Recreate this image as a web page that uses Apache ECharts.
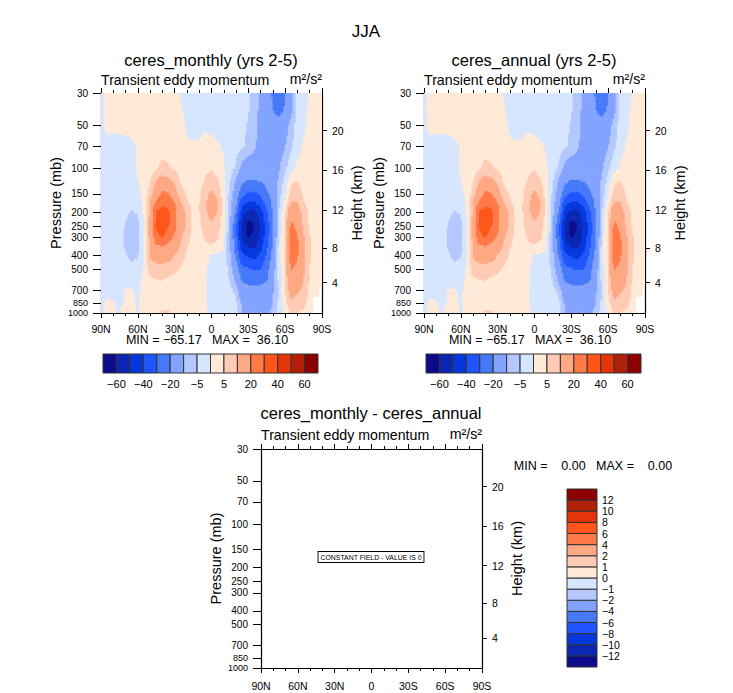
<!DOCTYPE html>
<html><head><meta charset="utf-8">
<script src="https://cdn.jsdelivr.net/npm/echarts@6.0.0/dist/echarts.min.js"></script>
<style>html,body{margin:0;padding:0;background:#fff}#c{width:733px;height:693px}</style>
</head><body><div id="c"></div>
<script>
// ---- data ----
const lats = [90,85,80,75,70,65,60,55,50,45,40,35,30,25,20,15,10,5,0,-5,-10,-15,-20,-25,-30,-35,-40,-45,-50,-55,-60,-65,-70,-75,-80,-85,-90];
const pressureLevels = [30,40,50,70,100,125,150,175,200,250,300,350,400,500,600,700,850,925,1000];
const p30  = [-1,1,1,1.5,1.5,2,2,2.5,2.5,3,3,3,2.5,-0.5,-1,-1.5,-1.5,-1.5,-1.5,-1.5,-1.5,-2,-2,-2.5,-4,-7,-11,-15,-21,-27,-21,-12,-4,-2,0.5,1,1.5];
const p40  = [-1,1,1,1.5,1.5,2,2,2.5,2.5,3,3,3,2.5,0.5,-1,-1.5,-1.5,-1.5,-1.5,-1.5,-1.5,-2,-2,-3,-4.5,-7.5,-11.5,-16,-19.5,-23,-19,-11.5,-4,-1.5,1,1.5,1.5];
const p50  = [-1,1,1,1.5,1.5,2,2,2.5,2.5,3,3,3,2.5,1,-0.5,-1,-1,-0.5,-1,-1.5,-1.5,-2,-2.5,-3,-5.5,-8,-12.5,-16,-17,-16,-13,-8,-3,-1,1,1.5,2];
const p70  = [-1,-1,-1.5,-2,-1.5,-1,0.5,2,2.5,3,3.5,3.5,3,2,0.5,0.3,0.5,1,1,0.5,-0.5,-2,-3,-4,-6.5,-9,-12,-14,-15,-13,-10.5,-6,-2,0.5,1.5,2,2];
const p100 = [-1,-1.5,-2,-2.5,-2.5,-2,0.5,2,3,4.5,6,5.5,4.5,3,2,1.5,2,4,4.5,3,0.5,-3,-5.5,-12,-14,-13,-14,-14,-15,-11,-6,-2,1,2,2.5,2,2];
const p125 = [-1,-1.5,-2,-2.5,-3,-2.5,-0.3,1.5,4.5,10.5,14,12,9,4.5,3,2,3,5.5,8,6,1,-4.5,-11,-19,-21,-21,-20.5,-17,-15,-9,-3,4.5,5.5,3.5,2.5,2,2];
const p150 = [-1,-1.5,-2,-2.5,-3,-3,-1,1,7,14,22,20.5,13,7,4.5,3,4,8,11,9,2,-6,-13,-26,-31,-32,-28,-22,-16,-8,-1,7,7.5,4.5,3,2.5,2];
const p175 = [-1,-1.5,-2,-2.5,-3.5,-3.5,-2,0.5,10.5,22,28,27,21,11,6,3.5,4.5,9,13,10.5,3,-7,-16,-38,-41,-42,-35,-28,-18,-7,2,10.5,10.5,5.5,3.5,3,2.5];
const p200 = [-1,-1.5,-2,-3,-4,-5.2,-4.5,0.8,11,31,34,32,24,13,9,4,4.5,9,12,10,3,-8,-20.5,-44,-52,-53,-45,-32,-19.5,-5.5,3.5,17,14,7.5,4,3,2.5];
const p250 = [-1,-1.5,-2,-3,-5.2,-7,-6.5,0.3,12,33,36,31,23,13,9.5,4,4,7,9,7.5,2,-8.5,-28,-51,-65,-60.5,-49,-36,-22,-4,5.2,22,18,9,4.5,3.5,3];
const p300 = [-1,-1.5,-2,-3,-6,-8,-7,-0.5,11.5,26,31,24,19,11,7,3.5,3.5,5.5,7,6,1,-9,-27,-50,-61,-57,-48,-35,-21,-3.5,6,25,21,11,5.2,4,3];
const p350 = [-1,-1.5,-2,-3,-5.5,-7.5,-6.5,-0.6,11,18,19,17,15,9,5.5,3,3,4,4.5,3,0.3,-9,-25,-45,-51,-52,-44,-32,-19,-3,6,26,22,12,5.5,4,3];
const p400 = [-1,-1.5,-2,-3,-4.5,-6,-5.5,-0.4,10.5,14,14,13,10,7,4.5,2.5,2.5,2.5,-0.5,-0.8,-1.5,-8,-21,-38,-41,-44,-38,-29,-17,-3,6,25,21.5,12,5.5,4,3];
const p500 = [-1,-1.5,-2,-2.5,-3.5,-4,-3,0.5,7,7,7.5,7,6,4.5,3,2,2,0.3,-1,-1.2,-2,-6.5,-14,-27,-29,-31,-30.5,-24,-14,-3.5,5.5,20.5,18,11,5,3.5,3];
const p600 = [-1,-1.5,-2,-2.5,-2.5,-2.5,-1.5,1,4,4.8,5,4,3.5,3,2.5,2,1.5,0.3,-1,-1.5,-2,-5,-11,-20.5,-22,-23,-22,-20.5,-12,-4,5.5,16,14,10.5,4.5,3,2.5];
const p700 = [-1,-1,-1.5,-2,0.5,0.5,-1,1.5,3,3,3.5,3,3,2.5,2,2,1.5,0.3,-1,-1.5,-2,-4,-6,-16,-17,-18,-17,-15,-11,-5.2,4.5,13,11,9,4,2,null];
const p850 = [-1,0.5,0.3,-2,0.5,1,-0.5,2,2.5,3,3.5,3,2.5,2,2,2,1.5,0.3,-1,-1.2,-1.5,-3,-4,-11,-13,-15,-14,-13,-10,-4,3,9,8,7,3,null,null];
const p925 = [-1,1,0.5,-0.5,1,1,-0.5,2,2.5,3,4.5,4.5,2.5,2,2,2,1.5,0.3,-0.5,-1,-1.5,-2.5,-3.5,-10.5,-12,-13,-13,-12,-9.5,-3.5,2,7,6,5.5,2,null,null];
const p1000= [-1,1,0.5,-0.5,1,1,-0.3,2,2.5,3,6,6,3,2,2,2,1.5,0.3,-0.5,-1,-1.5,-2,-3,-10.5,-11,-12,-12,-11,-8,-3,1,5.5,5,4,1,null,null];
const fieldRows = [p30,p40,p50,p70,p100,p125,p150,p175,p200,p250,p300,p350,p400,p500,p600,p700,p850,p925,p1000];

const contourLevels = [-60,-50,-40,-30,-20,-10,-5,0,5,10,20,30,40,50,60];
const diffLevels = [-12,-10,-8,-6,-4,-2,-1,0,1,2,4,6,8,10,12];
const palette = ['#0b0b8c','#0a26b2','#0537dc','#1e55ff','#4679fa','#82a3ff','#b4c8ff','#d7e6ff',
                 '#ffe9d7','#ffcbb4','#ffa884','#ff7a46','#ff5519','#e3340a','#b3200a','#8c0000'];
const pressureTicks = [30,50,70,100,150,200,250,300,400,500,700,850,1000];
const heightTicks = [4,8,12,16,20];
const heightTickPressures = [616.4,356.0,194.0,102.9,54.75];
const statsTop = {min:'\u221265.17', max:'36.10'};
const statsDiff = {min:'0.00', max:'0.00'};

// ---- helpers ----
const FONT = '"Liberation Sans", Arial, sans-serif';
function colorFor(v, levels){ let i=0; while(i<levels.length && v>=levels[i]) i++; return palette[i]; }
function fmtLat(v){ if (Math.abs(v)<1e-9) return '0'; return v>0 ? Math.round(v)+'N' : Math.round(-v)+'S'; }
function fmtNum(v){ return v<0 ? '\u2212'+(-v) : String(v); }
function heightLabel(v){ let best=0, bd=1e9; heightTickPressures.forEach((p,k)=>{const d=Math.abs(Math.log(p)-Math.log(v)); if(d<bd){bd=d;best=k;}}); return String(heightTicks[best]); }
const axisPressureTicks = pressureTicks.map(v => v >= 1000 ? 999.99 : v);
const mainPressureLabels = axisPressureTicks.filter(v => v < 800);          // 30 ... 700
const label850 = axisPressureTicks.filter(v => v > 800 && v < 999);         // 850 (twin axis)
const label1000 = axisPressureTicks.filter(v => v >= 999);                  // 1000 (twin axis)

const logP = pressureLevels.map(Math.log);
const nLat = lats.length, nLev = pressureLevels.length;
// value of the read grid at (lat, p), blended between the four surrounding grid points (drawing only)
function valueAt(la, p){
  let fi = (90 - la) / 5; fi = Math.max(0, Math.min(nLat - 1, fi));
  const i0 = Math.min(nLat - 2, Math.floor(fi)), tx = fi - i0;
  const lp = Math.log(p);
  let j0 = 0; while (j0 < nLev - 2 && lp > logP[j0 + 1]) j0++;
  let ty = (lp - logP[j0]) / (logP[j0 + 1] - logP[j0]); ty = Math.max(0, Math.min(1, ty));
  const pts = [[j0, i0, (1 - tx) * (1 - ty)], [j0, i0 + 1, tx * (1 - ty)], [j0 + 1, i0, (1 - tx) * ty], [j0 + 1, i0 + 1, tx * ty]];
  let near = pts[0]; for (const q of pts) if (q[2] > near[2]) near = q;
  if (fieldRows[near[0]][near[1]] === null) return null;
  let s = 0, w = 0;
  for (const q of pts) { const v = fieldRows[q[0]][q[1]]; if (v !== null) { s += v * q[2]; w += q[2]; } }
  return s / w;
}

const fieldData = [];
pressureLevels.forEach((p,j)=>{ lats.forEach((la,i)=>{ const v = fieldRows[j][i]; if (v!==null) fieldData.push([la,p,v,i,j]); }); });

function renderField(params, api){
  const i = api.value(3), j = api.value(4);
  const la = lats[i];
  const latHi = Math.min(90, la+2.5), latLo = Math.max(-90, la-2.5);
  const pTop = j===0 ? 30 : Math.sqrt(pressureLevels[j-1]*pressureLevels[j]);
  const pBot = j===nLev-1 ? 1000 : Math.sqrt(pressureLevels[j]*pressureLevels[j+1]);
  const a = api.coord([latHi, pTop]), b = api.coord([latLo, pBot]);
  const x = Math.min(a[0],b[0]), y = Math.min(a[1],b[1]);
  const w = Math.abs(b[0]-a[0]), h = Math.abs(b[1]-a[1]);
  const nx = Math.max(1, Math.round(w/1.5)), ny = Math.max(1, Math.round(h/1.5));
  const lTop = Math.log(pTop), lBot = Math.log(pBot);
  const children = [];
  for (let sy=0; sy<ny; sy++){
    const pp = Math.exp(lTop + (sy+0.5)/ny*(lBot-lTop));
    let runStart = 0, runColor = null;
    const flush = (end) => {
      if (runColor) children.push({type:'rect', shape:{x:x+runStart*w/nx-0.3, y:y+sy*h/ny-0.3, width:(end-runStart)*w/nx+0.6, height:h/ny+0.6}, style:{fill:runColor}});
    };
    for (let sx=0; sx<nx; sx++){
      const ll = latHi - (sx+0.5)/nx*(latHi-latLo);
      const v = valueAt(ll, pp);
      const c = v===null ? null : colorFor(v, contourLevels);
      if (sx===0){ runStart=0; runColor=c; }
      else if (c!==runColor){ flush(sx); runStart=sx; runColor=c; }
    }
    flush(nx);
  }
  return {type:'group', children:children};
}

const grids=[], xAxes=[], yAxes=[], series=[];
const axisLineStyle = {color:'#000', width:1.2};
function pressureTwin(gi, values, size, padding){
  return {gridIndex:gi, type:'log', logBase:10, min:30, max:1000, inverse:true, position:'left', offset:0,
    axisLine:{show:false}, axisTick:{show:false}, splitLine:{show:false}, minorTick:{show:false},
    axisLabel:{customValues:values, formatter:v=>String(Math.round(v)), fontSize:size, color:'#000', margin:13, fontFamily:FONT,
      padding:padding, showMinLabel:true, showMaxLabel:true, hideOverlap:false}};
}
function addPanel(left, top, withData, xMargin){
  const gi = grids.length;
  grids.push({left:left, top:top, width:221, height:(top>400?219:220)});
  const xBase = {gridIndex:gi, type:'value', min:-90, max:90, interval:30, inverse:true,
    axisLine:{show:true, onZero:false, lineStyle:axisLineStyle},
    axisTick:{show:true, length:5, inside:false, lineStyle:{color:'#000', width:1}},
    minorTick:{show:true, splitNumber:3, length:3, lineStyle:{color:'#000', width:1}},
    splitLine:{show:false}, minorSplitLine:{show:false}};
  const xIdx = xAxes.length;
  xAxes.push(Object.assign({}, xBase, {position:'bottom',
    axisLabel:{formatter:fmtLat, fontSize:10.5, color:'#000', margin:xMargin, fontFamily:FONT, showMinLabel:true, showMaxLabel:true, hideOverlap:false}}));
  xAxes.push(Object.assign({}, xBase, {position:'top', axisLabel:{show:false}}));
  const yIdx = yAxes.length;
  yAxes.push({gridIndex:gi, type:'log', logBase:10, min:30, max:1000, inverse:true, position:'left', offset:0,
    axisLine:{show:true, onZero:false, lineStyle:axisLineStyle},
    axisTick:{show:true, length:8, customValues:axisPressureTicks, lineStyle:{color:'#000'}},
    axisLabel:{customValues:mainPressureLabels, formatter:v=>String(Math.round(v)), fontSize:10, color:'#000', margin:13, fontFamily:FONT,
      showMinLabel:true, showMaxLabel:true, hideOverlap:false},
    splitLine:{show:false}, minorTick:{show:false},
    name:'Pressure (mb)', nameLocation:'middle', nameRotate:90, nameGap:38,
    nameTextStyle:{fontSize:14.5, color:'#000', fontFamily:FONT}});
  yAxes.push({gridIndex:gi, type:'log', logBase:10, min:30, max:1000, inverse:true, position:'right',
    axisLine:{show:true, onZero:false, lineStyle:axisLineStyle},
    axisTick:{show:true, length:5, customValues:heightTickPressures, lineStyle:{color:'#000'}},
    axisLabel:{customValues:heightTickPressures, formatter:heightLabel, fontSize:10.5, color:'#000', margin:10, fontFamily:FONT,
      showMinLabel:true, showMaxLabel:true, hideOverlap:false},
    splitLine:{show:false}, minorTick:{show:false},
    name:'Height (km)', nameLocation:'middle', nameRotate:90, nameGap:27,
    nameTextStyle:{fontSize:14.5, color:'#000', fontFamily:FONT}});
  yAxes.push(pressureTwin(gi, label850, 9, [0,0,2,0]));
  yAxes.push(pressureTwin(gi, label1000, 9, [3.6,0,0,0]));
  if (withData){
    series.push({type:'custom', xAxisIndex:xIdx, yAxisIndex:yIdx, clip:true, silent:true,
      encode:{x:0,y:1}, data:fieldData, renderItem:renderField, z:1});
  }
}
addPanel(101, 93, true, 10);
addPanel(424, 93, true, 10);
addPanel(261, 449, false, 12);

function addHBar(left, top){
  const gi = grids.length;
  grids.push({left:left, top:top, width:215, height:19});
  xAxes.push({gridIndex:gi, type:'value', min:0, max:16, axisLine:{show:false}, axisTick:{show:false}, splitLine:{show:false},
    axisLabel:{customValues:[1,3,5,7,9,11,13,15], formatter:v=>fmtNum(contourLevels[Math.round(v)-1]), fontSize:11, color:'#000', margin:5, fontFamily:FONT}});
  yAxes.push({gridIndex:gi, type:'value', min:0, max:1, show:false});
  const d=[]; for(let k=0;k<16;k++) d.push([k,0.5]);
  series.push({type:'custom', xAxisIndex:xAxes.length-1, yAxisIndex:yAxes.length-1, silent:true, encode:{x:0,y:1}, data:d,
    renderItem:(p,api)=>{const k=api.value(0); const a=api.coord([k,0]), b=api.coord([k+1,1]);
      return {type:'rect', shape:{x:a[0],y:b[1],width:b[0]-a[0],height:a[1]-b[1]}, style:{fill:palette[k], stroke:'#333', lineWidth:1}};}});
}
addHBar(103, 354);
addHBar(426, 354);

(function addVBar(){
  const gi = grids.length;
  grids.push({left:567, top:489, width:30, height:178});
  xAxes.push({gridIndex:gi, type:'value', min:0, max:1, show:false});
  yAxes.push({gridIndex:gi, type:'value', min:0, max:16, position:'right', axisLine:{show:false}, axisTick:{show:false}, splitLine:{show:false},
    axisLabel:{customValues:[1,2,3,4,5,6,7,8,9,10,11,12,13,14,15], formatter:v=>fmtNum(diffLevels[Math.round(v)-1]), fontSize:10.5, color:'#000', margin:5, fontFamily:FONT}});
  const d=[]; for(let k=0;k<16;k++) d.push([0.5,k]);
  series.push({type:'custom', xAxisIndex:xAxes.length-1, yAxisIndex:yAxes.length-1, silent:true, encode:{x:0,y:1}, data:d,
    renderItem:(p,api)=>{const k=api.value(1); const a=api.coord([0,k]), b=api.coord([1,k+1]);
      return {type:'rect', shape:{x:a[0],y:b[1],width:b[0]-a[0],height:a[1]-b[1]}, style:{fill:palette[k], stroke:'#333', lineWidth:1}};}});
})();

function txt(t, x, y, size, align){
  return {type:'text', x:x, y:y, silent:true, style:{text:t, fill:'#000', font:size+'px '+FONT,
    textAlign:align||'center', align:align||'center', textVerticalAlign:'middle', verticalAlign:'middle'}};
}
const graphics = [
  txt('JJA', 366, 31, 17),
  txt('ceres_monthly (yrs 2-5)', 211, 60, 16.5),
  txt('Transient eddy momentum', 101, 80, 14.2, 'left'),
  txt('m\u00b2/s\u00b2', 322, 79, 14.2, 'right'),
  txt('MIN = '+statsTop.min+'   MAX =  '+statsTop.max, 207, 340, 12.5),
  txt('ceres_annual (yrs 2-5)', 534, 60, 16.5),
  txt('Transient eddy momentum', 424, 80, 14.2, 'left'),
  txt('m\u00b2/s\u00b2', 645, 79, 14.2, 'right'),
  txt('MIN = '+statsTop.min+'   MAX =  '+statsTop.max, 530, 340, 12.5),
  txt('ceres_monthly - ceres_annual', 371, 413, 16.5),
  txt('Transient eddy momentum', 261, 435, 14.2, 'left'),
  txt('m\u00b2/s\u00b2', 482, 434, 14.2, 'right'),
  txt('MIN =    '+statsDiff.min+'   MAX =    '+statsDiff.max, 593, 466, 12.5),
  {type:'text', x:371, y:557, silent:true, scaleX:0.92, originX:0, originY:0,
   style:{text:'CONSTANT FIELD - VALUE IS 0', fill:'#000', font:'7.5px '+FONT, textAlign:'center', align:'center',
     textVerticalAlign:'middle', verticalAlign:'middle', backgroundColor:'#fff', borderColor:'#000', borderWidth:1, padding:[1,2]}}
];

const chart = echarts.init(document.getElementById('c'), null, {renderer:'svg'});
chart.setOption({
  animation:false, backgroundColor:'#fff',
  textStyle:{fontFamily:FONT},
  grid:grids, xAxis:xAxes, yAxis:yAxes, series:series, graphic:graphics
});
</script>
</body></html>
